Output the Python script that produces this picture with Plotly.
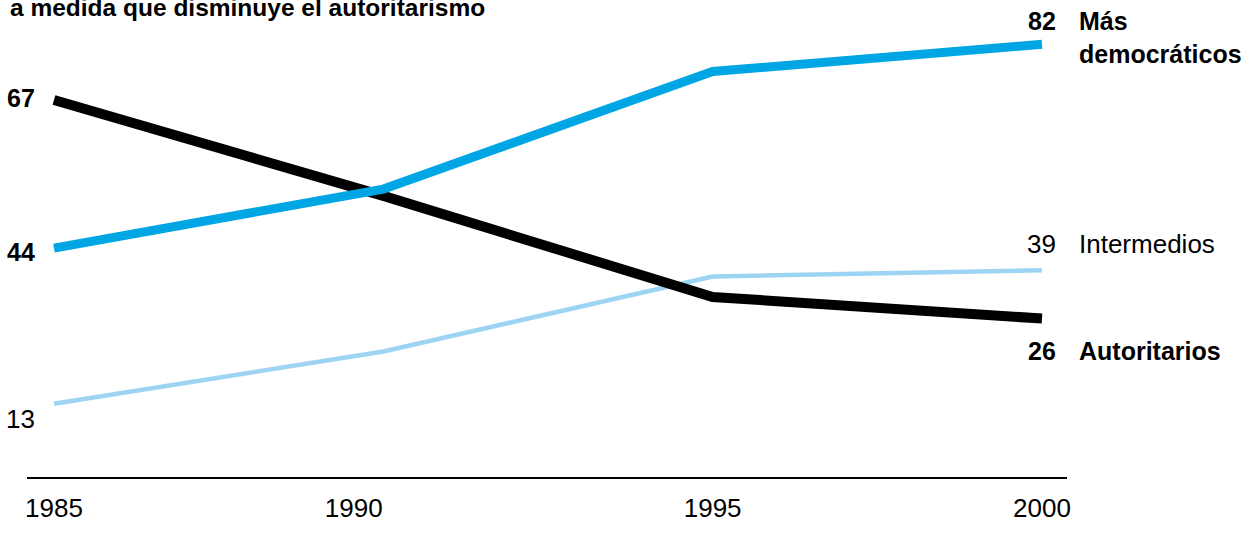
import plotly.graph_objects as go

# Data (years and plotted levels)
years = [1985, 1990, 1995, 2000]
autoritarios = [66.4, 49.5, 31.7, 27.9]
democraticos = [40.3, 50.7, 71.4, 76.2]
intermedios = [12.9, 22.1, 35.3, 36.4]

# Printed labels
start_labels = ["67", "44", "13"]     # autoritarios, democraticos, intermedios
end_labels = ["26", "82", "39"]
series_names = ["Autoritarios", "Más<br>democráticos", "Intermedios"]
tick_years = ["1985", "1990", "1995", "2000"]
tick_pos = [1985, 1989.55, 1995, 2000]
title_text = "a medida que disminuye el autoritarismo"

BLUE = "#00A6E4"
LIGHT = "#9DD4F4"
BLACK = "#000000"
FONT = "Liberation Sans"

fig = go.Figure()
fig.add_trace(go.Scatter(x=years, y=intermedios, mode="lines",
                         line=dict(color=LIGHT, width=4.5), cliponaxis=False))
fig.add_trace(go.Scatter(x=years, y=autoritarios, mode="lines",
                         line=dict(color=BLACK, width=10), cliponaxis=False))
fig.add_trace(go.Scatter(x=years, y=democraticos, mode="lines",
                         line=dict(color=BLUE, width=9), cliponaxis=False))

ann = []
series = [autoritarios, democraticos, intermedios]
bold = [True, True, False]
start_shift = [2, -4, -15]
end_shift = [-32, 23, 26]
for i, s in enumerate(series):
    b = bold[i]
    fs = 25 if b else 26
    st = start_labels[i]
    en = end_labels[i]
    nm = series_names[i]
    if b:
        st = f"<b>{st}</b>"
        en = f"<b>{en}</b>"
        nm = f"<b>{nm}</b>"
    ann.append(dict(x=years[0], y=s[0], text=st, showarrow=False, xanchor="right",
                    yanchor="middle", xshift=-17, yshift=start_shift[i],
                    font=dict(family=FONT, size=fs, color="black")))
    ann.append(dict(x=years[-1], y=s[-1], text=en, showarrow=False, xanchor="right",
                    yanchor="middle", xshift=16, yshift=end_shift[i],
                    font=dict(family=FONT, size=fs, color="black")))
    nshift = end_shift[i]
    if "<br>" in nm:
        nshift = end_shift[i] - 16
    ann.append(dict(x=years[-1], y=s[-1], text=nm, showarrow=False, xanchor="left",
                    yanchor="middle", align="left", xshift=35, yshift=nshift,
                    font=dict(family=FONT, size=fs, color="black")))

ann.append(dict(xref="paper", yref="paper", x=-19 / 1040, y=1.0, text=f"<b>{title_text}</b>",
                showarrow=False, xanchor="left", yanchor="middle", yshift=3,
                font=dict(family=FONT, size=24.5, color="black")))

fig.update_layout(
    width=1253, height=533,
    margin=dict(l=27, r=186, t=10, b=46),
    paper_bgcolor="white", plot_bgcolor="white",
    showlegend=False,
    annotations=ann,
    xaxis=dict(range=[1984.59, 2000.38], tickvals=tick_pos, ticktext=tick_years,
               showgrid=False, zeroline=False, showline=True, linecolor="black",
               linewidth=2, ticks="", ticklabelstandoff=7,
               tickfont=dict(family=FONT, size=26, color="black")),
    yaxis=dict(range=[0, 477 / 5.8], visible=False, showgrid=False, zeroline=False),
)

fig.write_html("out.html", config={"displayModeBar": False},
               post_script="document.body.style.margin='0';")
